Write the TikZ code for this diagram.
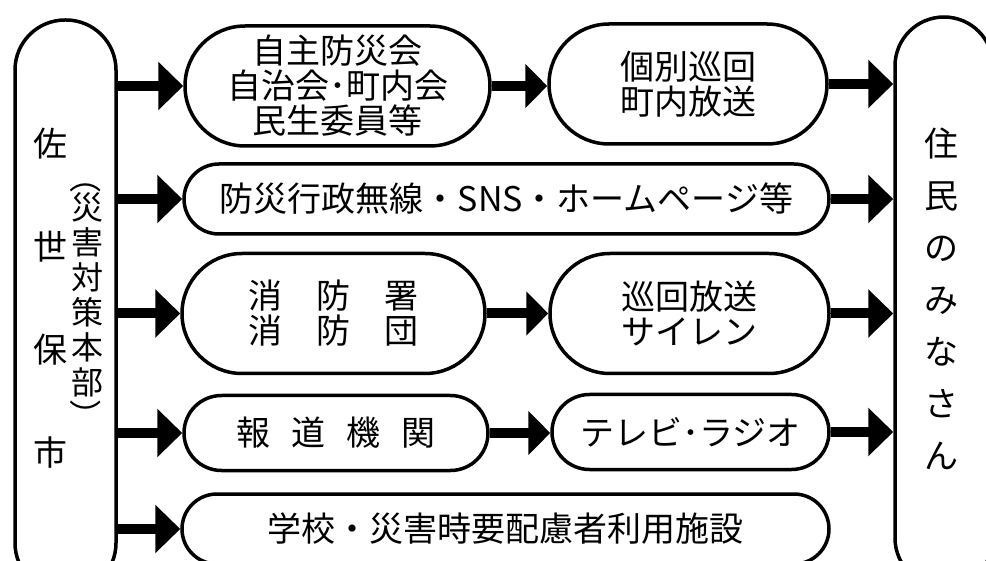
\documentclass[tikz,border=0pt]{standalone}
\usepackage{fontspec}
\setmainfont{Noto Sans CJK JP}
\usetikzlibrary{arrows.meta}
\begin{document}
\begin{tikzpicture}[x=1pt,y=-1pt,
  pill/.style={draw, line width=3.5pt, inner sep=0pt, align=center,
    font=\fontsize{34}{35}\selectfont},
  txt/.style={inner sep=0pt, align=center},
  arrL/.style={line width=10pt, -{Triangle[length=25pt,width=47pt]}},
  arrM/.style={line width=10pt, -{Triangle[length=22pt,width=43pt]}}]
\useasboundingbox (0,0) rectangle (986,561);
\clip (0,0) rectangle (986,561);
% side pills
\node[pill, minimum width=101pt, minimum height=573pt, rounded corners=50pt] (L) at (65.5,306.5) {};
\node[pill, minimum width=98pt, minimum height=570pt, rounded corners=49pt] (R) at (944,302) {};
\node[txt, font=\fontsize{34}{103}\selectfont] (Lt) at (50,298) {佐\\世\\保\\市};
\node[txt, font=\fontsize{32}{35}\selectfont] (Lp) at (87,295) {災\\害\\対\\策\\本\\部};
\node[txt, font=\fontsize{32}{35}\selectfont, rotate=-90] (Lpo) at (86,178) {（};
\node[txt, font=\fontsize{32}{35}\selectfont, rotate=-90] (Lpc) at (86,416) {）};
\node[txt, font=\fontsize{34}{52}\selectfont] (Rt) at (941,299) {住\\民\\の\\み\\な\\さ\\ん};
% row 1
\node[pill, minimum width=305pt, minimum height=120pt, rounded corners=60pt] (A1) at (337.5,86) {自主防災会\\自治会･町内会\\民生委員等};
\node[pill, minimum width=278pt, minimum height=120pt, rounded corners=60pt] (B1) at (688,84) {個別巡回\\町内放送};
% row 2
\node[pill, minimum width=645pt, minimum height=70pt, rounded corners=35pt] (A2) at (506.5,199) {防災行政無線・SNS・ホームページ等};
% row 3
\node[pill, minimum width=303pt, minimum height=120pt, rounded corners=60pt] (A3) at (333.5,313.5) {消　防　署\\消　防　団};
\node[pill, minimum width=279pt, minimum height=120pt, rounded corners=60pt] (B3) at (689.5,313.5) {巡回放送\\サイレン};
% row 4
\node[pill, minimum width=304pt, minimum height=75pt, rounded corners=37.5pt] (A4) at (336,433) {報\hspace{0.62em}道\hspace{0.62em}機\hspace{0.62em}関};
\node[pill, minimum width=277pt, minimum height=75pt, rounded corners=37.5pt] (B4) at (690.5,432) {テレビ･ラジオ};
% row 5
\node[pill, minimum width=647pt, minimum height=70pt, rounded corners=35pt] (A5) at (505.5,529) {学校・災害時要配慮者利用施設};
% arrows from left
\draw[arrL] (L.east |- A1.west) -- (A1.west);
\draw[arrL] (L.east |- A2.west) -- (A2.west);
\draw[arrL] (L.east |- A3.west) -- (A3.west);
\draw[arrL] (L.east |- A4.west) -- (A4.west);
\draw[arrL] (L.east |- A5.west) -- (A5.west);
% middle arrows
\draw[arrM] (A1.east) -- (B1.west |- A1.east);
\draw[arrM] (A3.east) -- (B3.west);
\draw[arrM] (A4.east) -- (B4.west |- A4.east);
% arrows to right
\draw[arrL] (B1.east) -- (R.west |- B1.east);
\draw[arrL] (A2.east) -- (R.west |- A2.east);
\draw[arrL] (B3.east) -- (R.west |- B3.east);
\draw[arrL] (B4.east) -- (R.west |- B4.east);
\end{tikzpicture}
\end{document}
